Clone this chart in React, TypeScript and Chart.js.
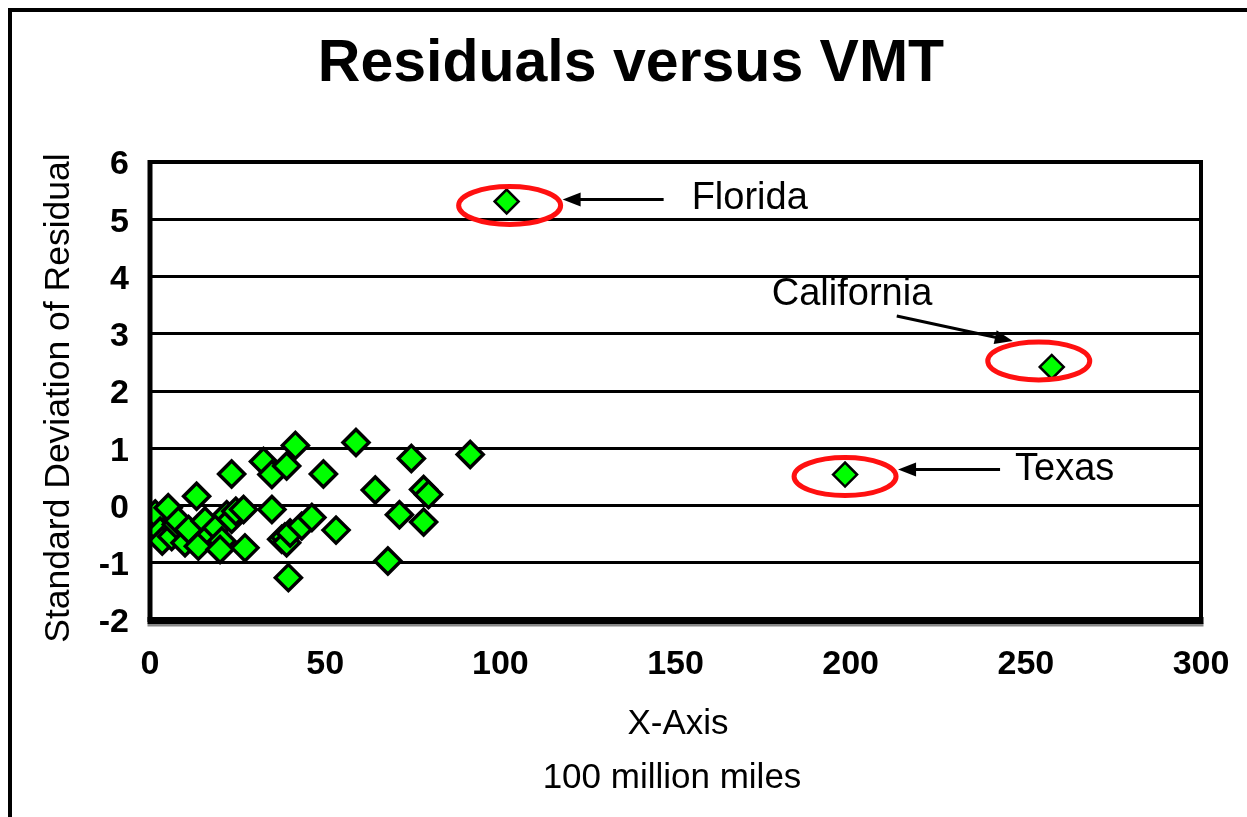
import React, { useEffect, useRef } from "react";
import { Chart, registerables } from "chart.js";

Chart.register(...registerables);

// ---------- data ----------
const chartTitle = "Residuals versus VMT";
const xAxisTitle = "X-Axis";
const xAxisSubtitle = "100 million miles";
const yAxisTitle = "Standard Deviation of Residual";

const xMin = 0;
const xMax = 300;
const xStep = 50;
const yMin = -2;
const yMax = 6;
const yStep = 1;

const clusterX = [
  0.9, 1.5, 2.9, 3.5, 5.2, 6.2, 7.5, 8.1, 10, 11, 13.3, 13.8, 15.7, 17.5, 19, 20.5,
  20, 21.9, 23.3, 23.3, 24.5, 26.7, 27.1, 32.4, 34.8, 34.8, 37.6, 38.5, 39, 39, 39.5,
  40, 41.5, 43.3, 46.2, 49.5, 53.1, 58.8, 64.3, 67.9, 71.2, 74.6, 78.1, 79.5, 78.1, 91.4,
];
const clusterY = [
  -0.27, -0.15, -0.45, -0.62, -0.04, -0.54, -0.33, -0.27, -0.65, -0.42, 0.16, -0.71, -0.27,
  -0.5, -0.39, -0.62, -0.77, -0.16, -0.24, 0.55, -0.1, -0.07, -0.74, 0.77, 0.54, -0.07,
  -0.59, -0.55, -0.65, 0.69, -1.26, -0.48, 1.05, -0.36, -0.21, 0.55, -0.43, 1.1, 0.27,
  -0.97, -0.16, 0.82, 0.28, 0.19, -0.29, 0.89,
];

const outlierNames = ["Florida", "California", "Texas"];
const outlierX = [101.8, 257.4, 198.4];
const outlierY = [5.31, 2.42, 0.54];

// ---------- styles ----------
const FONT = "'Liberation Sans', Arial, sans-serif";
const GREEN = "#00ff00";
const RED = "#ff1010";

// callout geometry, pixel offsets from the marked point
const callouts = [
  { ell: [3, 4], tail: [157, -2], tip: [56, -2], label: [185, -5] },
  { ell: [-13, -6], tail: [-155, -51], tip: [-39, -26], label: [-280, -74] },
  { ell: [0, 2], tail: [155, -5], tip: [53, -5], label: [170, -7] },
];

const decorPlugin = {
  id: "decor",
  afterDatasetsDraw(chart: any) {
    const ctx = chart.ctx as CanvasRenderingContext2D;
    const { left, right, top, bottom } = chart.chartArea;
    const xs = chart.scales.x;
    const ys = chart.scales.y;
    ctx.save();

    // outer frame (left and top)
    ctx.fillStyle = "#000";
    ctx.fillRect(8, 8, 4, chart.height);
    ctx.fillRect(8, 8, chart.width, 4);

    // plot border
    ctx.strokeStyle = "#000";
    ctx.lineWidth = 4;
    ctx.strokeRect(left, top, right - left, bottom - top);
    // thicker left/bottom axis lines + shadow
    ctx.fillRect(left - 2.5, top - 2, 5, bottom - top + 4);
    ctx.fillStyle = "#888";
    ctx.fillRect(left - 2.5, bottom + 3.5, right - left + 5, 3);
    ctx.fillStyle = "#000";
    ctx.fillRect(left - 2.5, bottom - 3, right - left + 5, 7);

    // callouts
    outlierNames.forEach((name, i) => {
      const c = callouts[i];
      const px = xs.getPixelForValue(outlierX[i]);
      const py = ys.getPixelForValue(outlierY[i]);
      // ellipse
      ctx.beginPath();
      ctx.ellipse(px + c.ell[0], py + c.ell[1], 51, 19, 0, 0, Math.PI * 2);
      ctx.strokeStyle = RED;
      ctx.lineWidth = 5;
      ctx.stroke();
      // arrow
      const x0 = px + c.tail[0], y0 = py + c.tail[1];
      const x1 = px + c.tip[0], y1 = py + c.tip[1];
      const ang = Math.atan2(y1 - y0, x1 - x0);
      const headL = 18, headW = 7;
      ctx.strokeStyle = "#000";
      ctx.lineWidth = 3;
      ctx.beginPath();
      ctx.moveTo(x0, y0);
      ctx.lineTo(x1 - Math.cos(ang) * headL * 0.8, y1 - Math.sin(ang) * headL * 0.8);
      ctx.stroke();
      ctx.beginPath();
      ctx.moveTo(x1, y1);
      ctx.lineTo(
        x1 - Math.cos(ang) * headL - Math.sin(ang) * headW,
        y1 - Math.sin(ang) * headL + Math.cos(ang) * headW
      );
      ctx.lineTo(
        x1 - Math.cos(ang) * headL + Math.sin(ang) * headW,
        y1 - Math.sin(ang) * headL - Math.cos(ang) * headW
      );
      ctx.closePath();
      ctx.fillStyle = "#000";
      ctx.fill();
      // label
      ctx.font = `38px ${FONT}`;
      ctx.textAlign = "left";
      ctx.textBaseline = "middle";
      ctx.fillText(name, px + c.label[0], py + c.label[1] + 2);
    });

    // titles
    ctx.fillStyle = "#000";
    ctx.textAlign = "center";
    ctx.textBaseline = "alphabetic";
    ctx.font = `bold 59px ${FONT}`;
    ctx.fillText(chartTitle, 631, 81);

    ctx.font = `35px ${FONT}`;
    ctx.fillText(xAxisTitle, 678, 734);
    ctx.fillText(xAxisSubtitle, 672, 788);

    ctx.save();
    ctx.font = `35.5px ${FONT}`;
    ctx.translate(69, (top + bottom) / 2 + 7);
    ctx.rotate(-Math.PI / 2);
    ctx.fillText(yAxisTitle, 0, 0);
    ctx.restore();

    ctx.restore();
  },
};

export default function App() {
  const ref = useRef<HTMLCanvasElement | null>(null);

  useEffect(() => {
    if (!ref.current) return;
    const cluster = clusterX.map((x, i) => ({ x, y: clusterY[i] }));
    const outliers = outlierX.map((x, i) => ({ x, y: outlierY[i] }));
    const chart = new Chart(ref.current, {
      type: "scatter",
      data: {
        datasets: [
          {
            label: "Residuals",
            data: cluster,
            pointStyle: "rectRot",
            pointRadius: 13,
            pointHoverRadius: 13,
            pointBorderWidth: 3.5,
            backgroundColor: GREEN,
            borderColor: "#000",
            clip: 0,
          } as any,
          {
            label: "Outliers",
            data: outliers,
            pointStyle: "rectRot",
            pointRadius: 12,
            pointHoverRadius: 12,
            pointBorderWidth: 2.5,
            backgroundColor: GREEN,
            borderColor: "#000",
            clip: 0,
          } as any,
        ],
      },
      options: {
        responsive: false,
        animation: false,
        devicePixelRatio: 1,
        layout: { autoPadding: false, padding: { left: 20, top: 162, right: 46, bottom: 97 } },
        plugins: {
          legend: { display: false },
          title: { display: false },
          tooltip: { enabled: false },
        },
        scales: {
          x: {
            type: "linear",
            min: xMin,
            max: xMax,
            border: { display: false },
            grid: { display: false, drawTicks: false },
            ticks: {
              stepSize: xStep,
              color: "#000",
              padding: 24,
              font: { family: FONT, size: 34, weight: "bold" },
            },
            afterFit: (s: any) => {
              s.height = 100;
              s.paddingLeft = 0;
              s.paddingRight = 0;
            },
          },
          y: {
            type: "linear",
            min: yMin,
            max: yMax,
            border: { display: false },
            grid: { color: "#000", lineWidth: 3, drawTicks: false },
            ticks: {
              stepSize: yStep,
              color: "#000",
              padding: 21,
              labelOffset: 3,
              font: { family: FONT, size: 34, weight: "bold" },
            },
            afterFit: (s: any) => {
              s.width = 130;
              s.paddingTop = 0;
              s.paddingBottom = 0;
            },
          },
        },
      } as any,
      plugins: [decorPlugin],
    });
    return () => chart.destroy();
  }, []);

  return (
    <div
      style={{
        position: "absolute",
        left: 0,
        top: 0,
        width: 1247,
        height: 817,
        background: "#fff",
      }}
    >
      <canvas ref={ref} width={1247} height={817} />
    </div>
  );
}
